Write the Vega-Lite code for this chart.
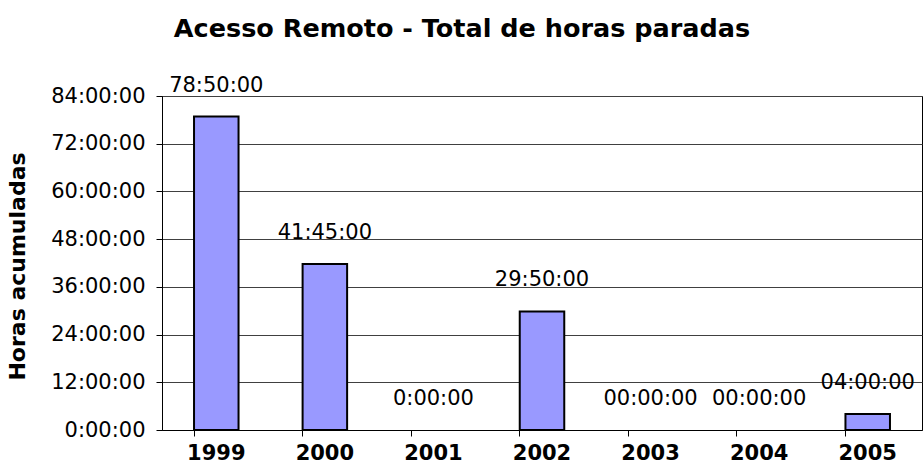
{
  "$schema": "https://vega.github.io/schema/vega-lite/v6.json",
  "width": 760,
  "height": 334,
  "autosize": {"type": "none"},
  "padding": {"left": 162, "top": 96, "right": 2, "bottom": 43},
  "background": "white",
  "title": {
    "text": "Acesso Remoto - Total de horas paradas",
    "font": "DejaVu Sans",
    "fontSize": 25.5,
    "fontWeight": "bold",
    "color": "black",
    "anchor": "middle",
    "baseline": "alphabetic",
    "offset": 12,
    "dx": -80
  },
  "config": {
    "view": {"stroke": "black", "strokeWidth": 1},
    "font": "DejaVu Sans"
  },
  "data": {
    "values": [
      {"ano": "1999", "horas": 78.8333, "rotulo": "78:50:00"},
      {"ano": "2000", "horas": 41.75, "rotulo": "41:45:00"},
      {"ano": "2001", "horas": 0, "rotulo": "0:00:00"},
      {"ano": "2002", "horas": 29.8333, "rotulo": "29:50:00"},
      {"ano": "2003", "horas": 0, "rotulo": "00:00:00"},
      {"ano": "2004", "horas": 0, "rotulo": "00:00:00"},
      {"ano": "2005", "horas": 4, "rotulo": "04:00:00"}
    ]
  },
  "layer": [
    {
      "transform": [{"filter": "datum.horas > 0"}],
      "mark": {"type": "bar", "fill": "#9999FF", "stroke": "black", "strokeWidth": 2},
      "encoding": {
        "x": {
          "field": "ano",
          "type": "nominal",
          "sort": null,
          "scale": {"domain": ["1999", "2000", "2001", "2002", "2003", "2004", "2005"], "paddingInner": 0.59, "paddingOuter": 0.295},
          "axis": {
            "orient": "bottom",
            "title": null,
            "labelAngle": 0,
            "labelFont": "DejaVu Sans",
            "labelFontSize": 21,
            "labelFontWeight": "bold",
            "labelColor": "black",
            "labelPadding": 12,
            "ticks": false,
            "domain": true,
            "domainColor": "black",
            "grid": false
          }
        },
        "y": {
          "field": "horas",
          "type": "quantitative",
          "scale": {"domain": [0, 84], "nice": false},
          "axis": {
            "values": [0, 12, 24, 36, 48, 60, 72, 84],
            "labelExpr": "datum.value + ':00:00'",
            "labelFont": "DejaVu Sans",
            "labelFontSize": 21,
            "labelColor": "black",
            "labelPadding": 11,
            "tickSize": 6,
            "tickColor": "black",
            "domainColor": "black",
            "grid": true,
            "gridColor": "#404040",
            "gridWidth": 1,
            "title": "Horas acumuladas",
            "titleFont": "DejaVu Sans",
            "titleFontSize": 22,
            "titleFontWeight": "bold",
            "titleColor": "black",
            "titleX": -133,
            "titleY": 170
          }
        }
      }
    },
    {
      "mark": {"type": "text", "baseline": "bottom", "dy": -21, "fontSize": 21, "font": "DejaVu Sans", "color": "black"},
      "encoding": {
        "x": {
          "field": "ano",
          "type": "nominal",
          "sort": null,
          "axis": {
            "orient": "bottom",
            "title": null,
            "labels": false,
            "domain": false,
            "grid": false,
            "ticks": true,
            "tickSize": 6,
            "tickColor": "black",
            "bandPosition": 0
          }
        },
        "y": {"field": "horas", "type": "quantitative"},
        "text": {"field": "rotulo"}
      }
    }
  ],
  "resolve": {"axis": {"x": "independent"}}
}
